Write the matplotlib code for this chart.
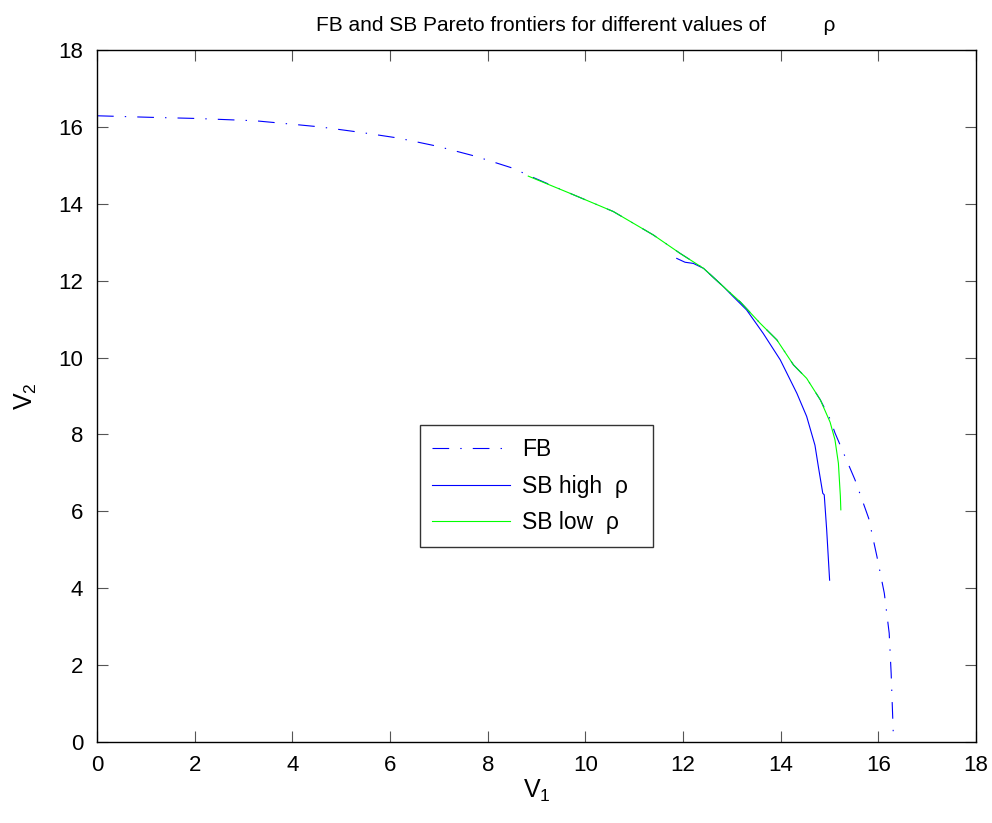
import matplotlib
matplotlib.use('Agg')
import matplotlib.pyplot as plt
from matplotlib import rcParams

rcParams['font.family'] = ['Liberation Sans', 'DejaVu Sans']
rcParams['mathtext.default'] = 'regular'
rcParams['lines.scale_dashes'] = False

# first best frontier
fb_v1 = [0.0, 1.09, 2.04, 3.24, 4.0, 4.57, 5.39, 6.17, 6.96, 7.74, 8.53, 8.83,
         9.69, 10.57, 11.39, 11.94, 12.42, 12.83, 13.17, 13.58, 13.92, 14.26,
         14.53, 14.81, 15.01, 15.11, 15.52, 15.80, 15.97, 16.12, 16.22, 16.26, 16.31]
fb_v2 = [16.29, 16.25, 16.22, 16.16, 16.07, 16.0, 15.86, 15.71, 15.5, 15.24, 14.92, 14.74,
         14.27, 13.8, 13.19, 12.71, 12.32, 11.84, 11.45, 10.89, 10.46, 9.81,
         9.46, 8.9, 8.4, 8.04, 6.82, 5.82, 4.82, 3.87, 2.83, 1.79, 0.0]

# second best, high rho
sbh_v1 = [11.87, 12.04, 12.21, 12.42, 12.83, 13.0, 13.3, 13.64, 13.99, 14.33,
          14.53, 14.70, 14.77, 14.86, 14.89, 14.94, 15.0]
sbh_v2 = [12.58, 12.48, 12.45, 12.32, 11.84, 11.62, 11.24, 10.63, 9.94, 9.07,
          8.47, 7.72, 7.16, 6.47, 6.43, 5.52, 4.21]

# second best, low rho
sbl_v1 = [8.83, 9.69, 10.57, 11.39, 11.94, 12.42, 12.83, 13.17, 13.58, 13.92,
          14.26, 14.53, 14.81, 15.01, 15.11, 15.18, 15.2, 15.22, 15.23]
sbl_v2 = [14.72, 14.27, 13.8, 13.19, 12.71, 12.32, 11.84, 11.45, 10.89, 10.46,
          9.81, 9.46, 8.9, 8.32, 7.86, 7.25, 6.82, 6.4, 6.04]

ticks = [0, 2, 4, 6, 8, 10, 12, 14, 16, 18]

fig = plt.figure(figsize=(9.92, 8.23), dpi=100)
ax = fig.add_axes([0.0978, 0.0984, 0.8862, 0.8408])

ax.plot(fb_v1, fb_v2, color='blue', lw=0.8, dashes=(12, 8, 1, 8), label='FB')
ax.plot(sbh_v1, sbh_v2, color='blue', lw=0.8, label='SB high  \u03c1')
ax.plot(sbl_v1, sbl_v2, color='#00ff00', lw=0.8, label='SB low  \u03c1')

ax.set_xlim(0, 18)
ax.set_ylim(0, 18)
ax.set_xticks(ticks)
ax.set_yticks(ticks)
ax.tick_params(direction='in', length=8, width=0.8, color='#555555', labelsize=16,
               top=True, right=True)
ax.tick_params(axis='x', pad=9)
ax.tick_params(axis='y', pad=10)
for s in ax.spines.values():
    s.set_linewidth(1.0)

ax.set_xlabel('$V_1$', fontsize=18, labelpad=2)
ax.set_ylabel('$V_2$', fontsize=18, labelpad=14)
ax.set_title('FB and SB Pareto frontiers for different values of          \u03c1',
             fontsize=15, pad=14, x=0.545)

leg = ax.legend(loc='lower left', bbox_to_anchor=(0.367, 0.282, 0.266, 0.183),
                mode='expand', borderaxespad=0, fontsize=16.5, handlelength=3.4,
                frameon=True, fancybox=False, borderpad=0.55, labelspacing=0.6,
                handletextpad=0.5)
leg.get_frame().set_edgecolor('black')
leg.get_frame().set_linewidth(1.0)

fig.savefig('out.png', dpi=100)
